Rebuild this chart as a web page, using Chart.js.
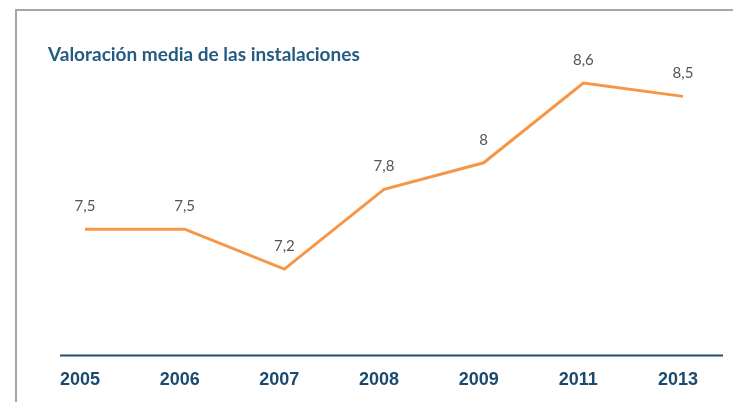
<!DOCTYPE html>
<html>
<head>
<meta charset="utf-8">
<script src="https://cdn.jsdelivr.net/npm/chart.js@4/dist/chart.umd.min.js"></script>
<style>
    body { margin: 0; background: #fff; }
    #wrap { position: relative; width: 733px; height: 402px; overflow: hidden; }
    #frame { position: absolute; left: 15px; top: 9px; width: 800px; height: 500px;
             border-left: 2px solid #a6a6a6; border-top: 2px solid #a6a6a6; }
    canvas { position: absolute; left: 0; top: 0; }
</style>
</head>
<body>
<div id="wrap">
    <div id="frame"></div>
    <canvas id="lineChart" width="733" height="402"></canvas>
</div>
<script>
// years on the x axis
const years = ["2005", "2006", "2007", "2008", "2009", "2011", "2013"];
// average rating per year
const ratings = [7.5, 7.5, 7.2, 7.8, 8, 8.6, 8.5];
// text shown over each point (comma decimals)
const pointLabels = ["7,5", "7,5", "7,2", "7,8", "8", "8,6", "8,5"];

// write value labels above the points
const valueLabels = {
    id: "valueLabels",
    afterDatasetsDraw(chart) {
        const ctx = chart.ctx;
        const meta = chart.getDatasetMeta(0);
        ctx.save();
        ctx.font = "15px Lato";
        ctx.fillStyle = "#555555";
        ctx.textAlign = "center";
        ctx.textBaseline = "middle";
        meta.data.forEach((pt, i) => {
            ctx.fillText(pointLabels[i], pt.x, pt.y - 23);
        });
        ctx.restore();
    }
};

// axis line sticks out past the first and last year
const baseLine = {
    id: "baseLine",
    beforeDatasetsDraw(chart) {
        const ctx = chart.ctx;
        const area = chart.chartArea;
        ctx.save();
        ctx.strokeStyle = "#1f4e70";
        ctx.lineWidth = 2;
        ctx.beginPath();
        ctx.moveTo(area.left - 25, area.bottom);
        ctx.lineTo(area.right + 40, area.bottom);
        ctx.stroke();
        ctx.restore();
    }
};

const chrtline = document.getElementById("lineChart");

new Chart(chrtline, {
    type: "line",
    data: {
        labels: years,
        datasets: [{
            label: "Valoración media",
            data: ratings,
            borderColor: "#f79646",
            borderWidth: 3,
            pointRadius: 0,
            tension: 0,
            fill: false
        }]
    },
    options: {
        responsive: false,
        animation: false,
        layout: {
            padding: { left: 48, right: 50, top: 0, bottom: -3 }
        },
        plugins: {
            legend: { display: false },
            tooltip: { enabled: false },
            title: {
                display: true,
                text: "Valoración media de las instalaciones",
                align: "start",
                color: "#245b82",
                font: { family: "Lato", size: 19, weight: "bold" },
                padding: { top: 43, bottom: 4 }
            }
        },
        scales: {
            x: {
                offset: false,
                grid: { display: false, drawTicks: false },
                border: { display: false },
                ticks: {
                    color: "#1b4a6e",
                    font: { family: "Liberation Sans", size: 18, weight: "bold" },
                    padding: 14,
                    labelOffset: -5,
                    maxRotation: 0
                }
            },
            y: {
                min: 6.55,
                max: 8.7,
                grid: { display: false, drawTicks: false },
                border: { display: false },
                ticks: { display: false },
                afterFit: (scale) => { scale.width = 37; }
            }
        }
    },
    plugins: [valueLabels, baseLine]
});
</script>
</body>
</html>
